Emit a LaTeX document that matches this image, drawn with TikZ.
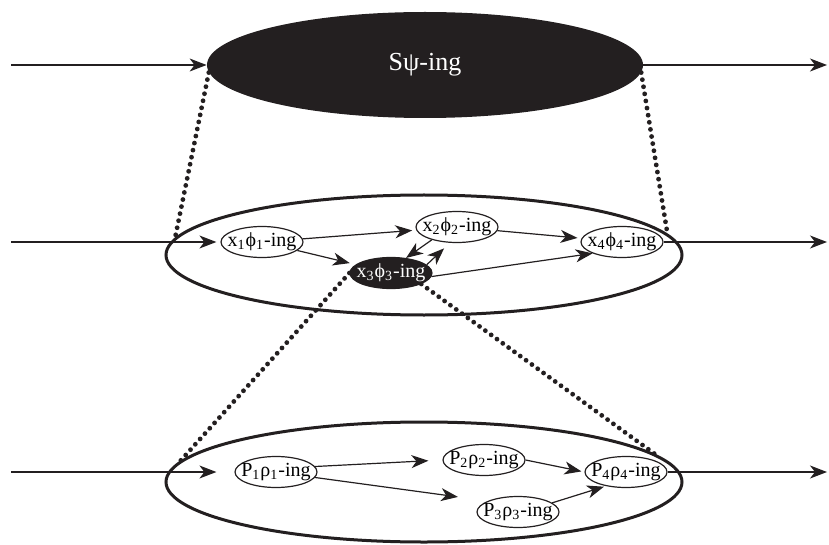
\documentclass[tikz,border=0pt]{standalone}
\usepackage{fontspec}
\setmainfont{Liberation Serif}
\usetikzlibrary{shapes.geometric,arrows.meta}
\definecolor{ink}{RGB}{35,31,32}
\tikzset{>={Stealth[length=8.5pt,width=6.5pt,inset=2.5pt]}}
\tikzset{
  stage/.style={draw=ink, ellipse, line width=1.5pt, minimum width=258pt, minimum height=60pt},
  act/.style={draw=ink, ellipse, line width=0.6pt, inner sep=-4pt, minimum width=41pt, minimum height=15.5pt, font=\fontsize{10}{10}\selectfont},
  flow/.style={->, draw=ink, line width=0.6pt},
  zoomline/.style={draw=ink, line width=2.4pt, line cap=round, dash pattern=on 0pt off 3.6pt}
}

\begin{document}
\begin{tikzpicture}[x=0.5pt,y=-0.5pt]
                \useasboundingbox (0,0) rectangle (829,545);

                % The whole activity at the top
                \node[ellipse, fill=ink, text=white, minimum width=218pt, minimum height=53pt, font=\fontsize{13}{13}\selectfont] (top) at (425,65) {Sψ-ing};
                \coordinate (inT) at (11,65);
                \coordinate (outT) at (827,65);
                \draw[flow] (inT) -- (top.west);
                \draw[flow] (top.east) -- (outT);

                % The middle level and its sub-activities
                \node[stage] (mid) at (424,255) {};
                \node[act] (x1) at (262,242) {x\textsubscript{1}ϕ\textsubscript{1}-ing};
                \node[act] (x2) at (457,227) {x\textsubscript{2}ϕ\textsubscript{2}-ing};
                \node[act, fill=ink, text=white] (x3) at (391,273) {x\textsubscript{3}ϕ\textsubscript{3}-ing};
                \node[act] (x4) at (622,242) {x\textsubscript{4}ϕ\textsubscript{4}-ing};
                \coordinate (inM) at (11,242);
                \coordinate (outM) at (827,242);
                \draw[flow, shorten >=2pt] (inM) -- (x1);
                \draw[flow] (x4.east) -- (outM);
                \draw[flow, shorten >=2pt] (x1) -- (x2);
                \draw[flow, shorten >=3pt] (x1) -- (x3);
                \draw[flow] (x2.207) -- (x3.45);
                \draw[flow, shorten >=4pt] (x3.13) -- (x2.246);
                \draw[flow, shorten >=2pt] (x2) -- (x4);
                \draw[flow] (x3.355) -- (x4.south west);

                % The bottom level and its sub-activities
                \node[stage] (bot) at (424,482) {};
                \node[act] (p1) at (276,472) {P\textsubscript{1}ρ\textsubscript{1}-ing};
                \node[act] (p2) at (484,460) {P\textsubscript{2}ρ\textsubscript{2}-ing};
                \node[act] (p3) at (518,512) {P\textsubscript{3}ρ\textsubscript{3}-ing};
                \node[act] (p4) at (626,472) {P\textsubscript{4}ρ\textsubscript{4}-ing};
                \coordinate (inB) at (11,472);
                \coordinate (outB) at (827,472);
                \draw[flow, shorten >=9pt] (inB) -- (p1);
                \draw[flow] (p4.east) -- (outB);
                \draw[flow, shorten >=7pt] (p1.8) -- (p2.west);
                \draw[flow, shorten >=15pt] (p1.-8) -- (p3.160);
                \draw[flow, shorten >=1.5pt] (p2.east) -- (p4.west);
                \draw[flow, shorten >=1pt] (p3.15) -- (p4.215);

                % Dotted zoom lines between the levels
                \draw[zoomline] (top.182) -- (mid.176);
                \draw[zoomline] (top.358) -- (mid.5);
                \draw[zoomline] (x3.west) -- (bot.175);
                \draw[zoomline] (x3.-20) -- (bot.7);
\end{tikzpicture}
\end{document}
